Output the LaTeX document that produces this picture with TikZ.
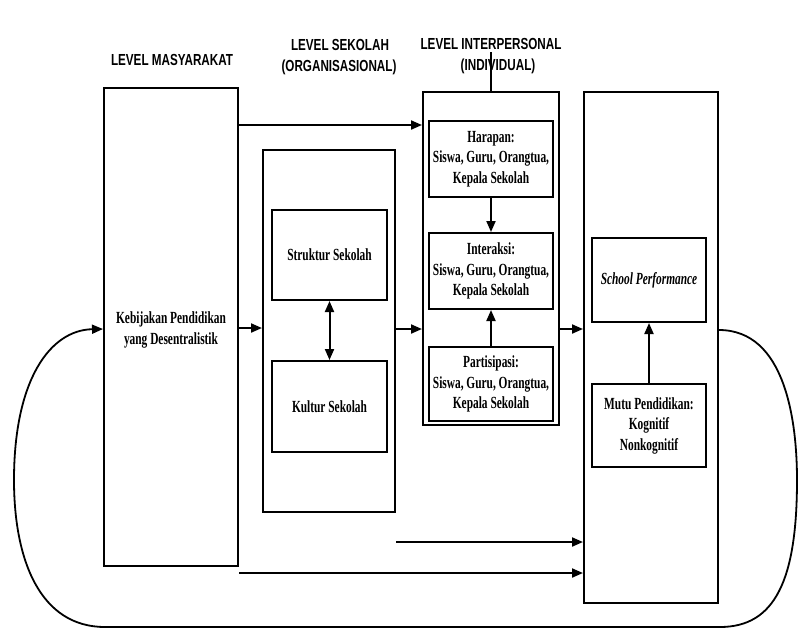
\documentclass[tikz,border=0pt]{standalone}
\usepackage{fontspec}
\setmainfont{Liberation Serif}
\newfontfamily\titlefont[FakeStretch=0.73]{Liberation Sans}
\newfontfamily\boxfont[FakeStretch=0.67]{Liberation Serif}
\usetikzlibrary{arrows.meta}
\begin{document}
\begin{tikzpicture}[x=1pt,y=-1pt,
  outer/.style={draw,line width=2pt,minimum width=134pt,inner sep=0pt},
  inner/.style={draw,line width=2pt,minimum width=124pt,inner sep=2pt,align=center,
    font=\boxfont\bfseries\fontsize{17}{20.5}\selectfont},
  ttl/.style={font=\titlefont\bfseries\fontsize{16}{20}\selectfont,inner sep=0pt},
  arr/.style={line width=2pt,-{Triangle[length=11pt,width=9pt]}},
  darr/.style={line width=2pt,{Triangle[length=11pt,width=9pt]}-{Triangle[length=11pt,width=9pt]}},
  loop/.style={line width=1.8pt,-{Triangle[length=11pt,width=9pt]}}]
\useasboundingbox (0,0) rectangle (801,630);
% titles
\node[ttl] (t1) at (172,60) {LEVEL MASYARAKAT};
\node[ttl] (t2a) at (340,45) {LEVEL SEKOLAH};
\node[ttl] (t2b) at (339,67) {(ORGANISASIONAL)};
\node[ttl] (t3a) at (491,44) {LEVEL INTERPERSONAL};
\node[ttl] (t3b) at (498,66) {(INDIVIDUAL)};
% outer boxes
\node[outer,minimum width=134pt,minimum height=478pt] (A) at (171,327) {};
\node[inner,draw=none,minimum width=0pt] (Atext) at (171,330) {Kebijakan Pendidikan\\yang Desentralistik};
\node[outer,minimum width=132pt,minimum height=362pt] (B) at (329,331) {};
\node[outer,minimum width=136pt,minimum height=333pt] (C) at (491,258.5) {};
\node[outer,minimum width=134pt,minimum height=511pt] (D) at (651,347.5) {};
% inner boxes of C
\node[inner,minimum height=76pt] (H) at (491,159) {Harapan:\\Siswa, Guru, Orangtua,\\Kepala Sekolah};
\node[inner,minimum height=76pt] (I) at (491,271) {Interaksi:\\Siswa, Guru, Orangtua,\\Kepala Sekolah};
\node[inner,minimum height=74pt] (P) at (491,384) {Partisipasi:\\Siswa, Guru, Orangtua,\\Kepala Sekolah};
% inner boxes of B
\node[inner,minimum width=115pt,minimum height=90pt] (S) at (329.5,255) {Struktur Sekolah};
\node[inner,minimum width=115pt,minimum height=91pt] (K) at (329.5,406.5) {Kultur Sekolah};
% inner boxes of D
\node[inner,minimum width=114pt,minimum height=84pt,font=\boxfont\bfseries\itshape\fontsize{17}{20.5}\selectfont] (SP) at (649,280) {School Performance};
\node[inner,minimum width=114pt,minimum height=83pt] (M) at (649,425.5) {Mutu Pendidikan:\\Kognitif\\Nonkognitif};
% connectors
\coordinate (tl) at (491,52);
\draw[line width=2pt] (tl) -- (C.north);
\draw[arr] (A.east |- 0,125) -- (C.west |- 0,125);
\draw[arr] (A.east |- 0,328) -- (B.west |- 0,328);
\draw[arr] (B.east |- 0,329) -- (C.west |- 0,329);
\draw[arr] (C.east |- 0,329) -- (D.west |- 0,329);
\draw[arr] (B.east |- 0,542) -- (D.west |- 0,542);
\draw[arr] (A.east |- 0,573) -- (D.west |- 0,573);
\draw[arr] (H.south) -- (I.north);
\draw[arr] (P.north) -- (I.south);
\draw[darr] (S.south) -- (K.north);
\draw[arr] (M.north) -- (SP.south);
% feedback loop
\coordinate (r1) at (797,480);
\coordinate (b1) at (720,627);
\coordinate (b2) at (105,627);
\coordinate (l1) at (14,480);
\draw[loop] (D.east |- 0,330) .. controls (785,330) and (797,420) .. (r1)
  .. controls (797,580) and (775,627) .. (b1) -- (b2)
  .. controls (40,627) and (14,560) .. (l1)
  .. controls (14,380) and (50,330) .. (A.west |- 0,329);
\end{tikzpicture}
\end{document}
